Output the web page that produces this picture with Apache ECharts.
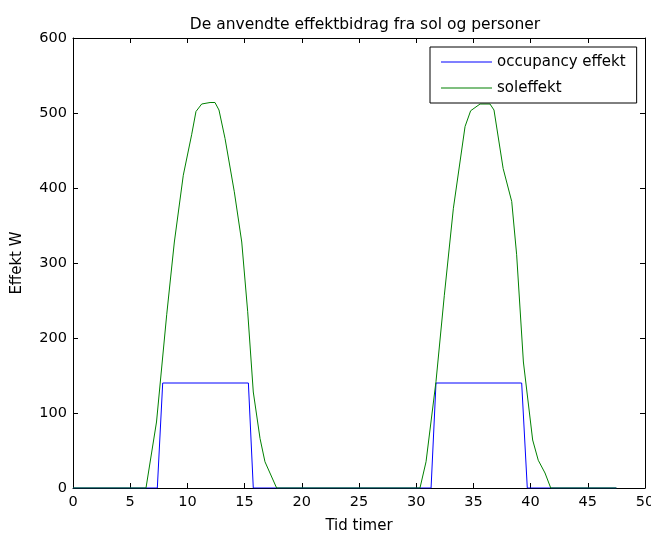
<!DOCTYPE html>
<html>
<head>
<meta charset="utf-8">
<script src="https://cdn.jsdelivr.net/npm/echarts@6/dist/echarts.min.js"></script>
<style>html,body{margin:0;padding:0;background:#fff}#c{width:651px;height:533px}</style>
</head>
<body>
<div id="c"></div>
<script>
var titleText = 'De anvendte effektbidrag fra sol og personer';
var xName = 'Tid timer';
var yName = 'Effekt W';
var seriesNames = ['occupancy effekt', 'soleffekt'];

var occHours = [0, 7.37, 7.84, 15.33, 15.76, 31.3, 31.73, 39.22, 39.71, 47.5];
var occWatts = [0, 0, 140, 140, 0, 0, 140, 140, 0, 0];

var solHours = [0, 6.38, 7.3, 8.19, 8.86, 9.64, 10.37, 10.75, 11.25, 11.98, 12.41, 12.76, 13.29, 14.1, 14.75, 15.27, 15.76, 16.35, 16.78, 17.8,
                30.33, 30.86, 31.73, 32.46, 33.25, 34.27, 34.76, 35.58, 36.45, 36.8, 37.6, 38.35, 38.78, 39.37, 40.18, 40.67, 41.26, 41.76, 47.5];
var solWatts = [0, 0, 88, 231, 328, 417, 471, 502, 512, 514, 514, 504, 466, 395, 328, 235, 128, 66, 35, 0,
                0, 35, 142, 257, 373, 482, 503, 512, 512, 504, 426, 382, 311, 168, 64, 37, 20, 0, 0];

var lineColors = ['#0000ff', '#008000'];

function pairs(xs, ys) { return xs.map(function (x, i) { return [x, ys[i]]; }); }

var font = 'DejaVu Sans, sans-serif';
var chart = echarts.init(document.getElementById('c'), null, {renderer: 'canvas'});
var axisLine = {show: true, onZero: false, lineStyle: {color: '#000', width: 1}};
var tick = {show: true, inside: true, length: 5, lineStyle: {color: '#000', width: 1}};
chart.setOption({
  animation: false,
  backgroundColor: '#fff',
  title: {
    text: titleText, left: 360, top: 12, textAlign: 'center',
    textStyle: {fontFamily: font, fontSize: 15.5, fontWeight: 'normal', color: '#000'}
  },
  legend: {
    orient: 'vertical', left: 430, top: 47,
    padding: [7, 11, 7, 11], itemGap: 10, itemWidth: 51, itemHeight: 1,
    icon: 'rect',
    borderColor: '#000', borderWidth: 1, backgroundColor: '#fff',
    textStyle: {fontFamily: font, fontSize: 15, color: '#000', lineHeight: 16},
    data: seriesNames.map(function (n, i) { return {name: n, itemStyle: {color: lineColors[i]}}; })
  },
  grid: {left: 73, right: 6, top: 38, bottom: 45, outerBoundsMode: 'none', containLabel: false},
  xAxis: [{
    type: 'value', min: 0, max: 50, interval: 5,
    name: xName, nameLocation: 'middle', nameGap: 31,
    nameTextStyle: {fontFamily: font, fontSize: 15, color: '#000'},
    axisLine: axisLine, axisTick: tick, splitLine: {show: false},
    axisLabel: {fontFamily: font, fontSize: 14.5, color: '#000', margin: 7}
  }, {
    type: 'value', min: 0, max: 50, interval: 5, position: 'top',
    axisLine: axisLine, axisTick: tick, splitLine: {show: false}, axisLabel: {show: false}
  }],
  yAxis: [{
    type: 'value', min: 0, max: 600, interval: 100,
    name: yName, nameLocation: 'middle', nameGap: 48,
    nameTextStyle: {fontFamily: font, fontSize: 15, color: '#000'},
    axisLine: axisLine, axisTick: tick, splitLine: {show: false},
    axisLabel: {fontFamily: font, fontSize: 14.5, color: '#000', margin: 6}
  }, {
    type: 'value', min: 0, max: 600, interval: 100, position: 'right',
    axisLine: axisLine, axisTick: tick, splitLine: {show: false}, axisLabel: {show: false}
  }],
  series: [{
    name: seriesNames[0], type: 'line', symbol: 'none', xAxisIndex: 0, yAxisIndex: 0,
    data: pairs(occHours, occWatts),
    lineStyle: {color: lineColors[0], width: 1}, itemStyle: {color: lineColors[0]}
  }, {
    name: seriesNames[1], type: 'line', symbol: 'none', xAxisIndex: 0, yAxisIndex: 0,
    data: pairs(solHours, solWatts),
    lineStyle: {color: lineColors[1], width: 1}, itemStyle: {color: lineColors[1]}
  }]
});
</script>
</body>
</html>
